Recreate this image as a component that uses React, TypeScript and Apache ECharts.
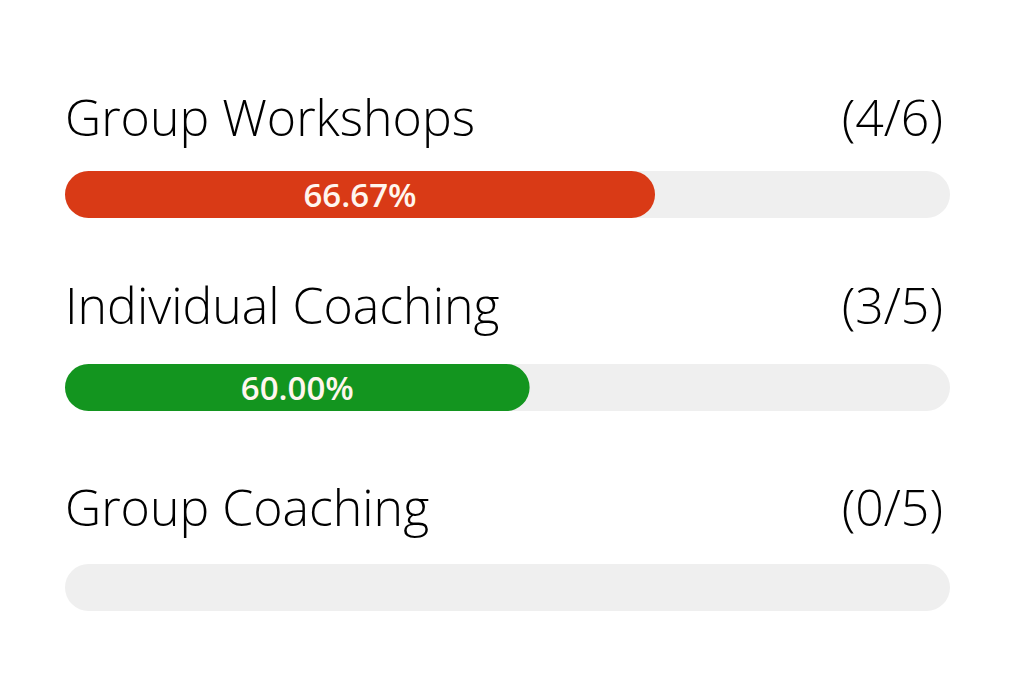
import React, { useEffect, useRef } from "react";
import * as echarts from "echarts";

const categories = ["Group Workshops", "Individual Coaching", "Group Coaching"];
const completed = [4, 3, 0];
const totals = [6, 5, 5];
const percentLabels = ["66.67%", "60.00%", ""];
// filled length of each bar as drawn, in percent of the track
const barFill = [66.67, 52.5, 0];
const barColors = ["#d93a16", "#13951f"];

// layout
const barTops = [171, 364, 564];
const barH = 47;
const titleBaselines = [135, 323, 525];
const LEFT = 65;
const RIGHT = 74;
const FONT = "Open Sans";
const TITLE_SIZE = 50;

export default function App() {
  const ref = useRef<HTMLDivElement>(null);
  useEffect(() => {
    document.body.style.margin = "0";
    const chart = echarts.init(ref.current!, undefined, { renderer: "svg" });
    const grids = categories.map((_, i) => ({
      left: LEFT,
      right: RIGHT,
      top: barTops[i],
      height: barH,
      containLabel: false,
    }));
    const xAxes = categories.map((_, i) => ({
      type: "value",
      gridIndex: i,
      min: 0,
      max: 100,
      show: false,
    }));
    const yAxes = categories.map((c, i) => ({
      type: "category",
      gridIndex: i,
      data: [c],
      show: false,
    }));
    const series = categories.map((c, i) => ({
      type: "bar",
      xAxisIndex: i,
      yAxisIndex: i,
      data: [barFill[i]],
      barWidth: barH,
      showBackground: true,
      backgroundStyle: { color: "#efefef", borderRadius: barH / 2 },
      itemStyle: { color: barColors[i % barColors.length], borderRadius: barH / 2 },
      label: {
        show: true,
        position: "inside",
        formatter: () => percentLabels[i],
        color: "#fff6ee",
        fontFamily: FONT,
        fontWeight: 600,
        fontSize: 33,
      },
      silent: true,
    }));
    const titles: any[] = [];
    categories.forEach((c, i) => {
      titles.push({
        text: c,
        left: LEFT,
        top: titleBaselines[i] - 43,
        padding: 0,
        textStyle: { fontFamily: FONT, fontWeight: 300, fontSize: TITLE_SIZE, color: "#000" },
      });
      titles.push({
        text: `(${completed[i]}/${totals[i]})`,
        right: 1024 - 943,
        top: titleBaselines[i] - 43,
        padding: 0,
        textStyle: { fontFamily: FONT, fontWeight: 300, fontSize: TITLE_SIZE, color: "#000" },
      });
    });
    chart.setOption({
      animation: false,
      backgroundColor: "#ffffff",
      title: titles,
      grid: grids,
      xAxis: xAxes,
      yAxis: yAxes,
      series,
    });
    return () => chart.dispose();
  }, []);
  return <div ref={ref} style={{ width: 1024, height: 691 }} />;
}
